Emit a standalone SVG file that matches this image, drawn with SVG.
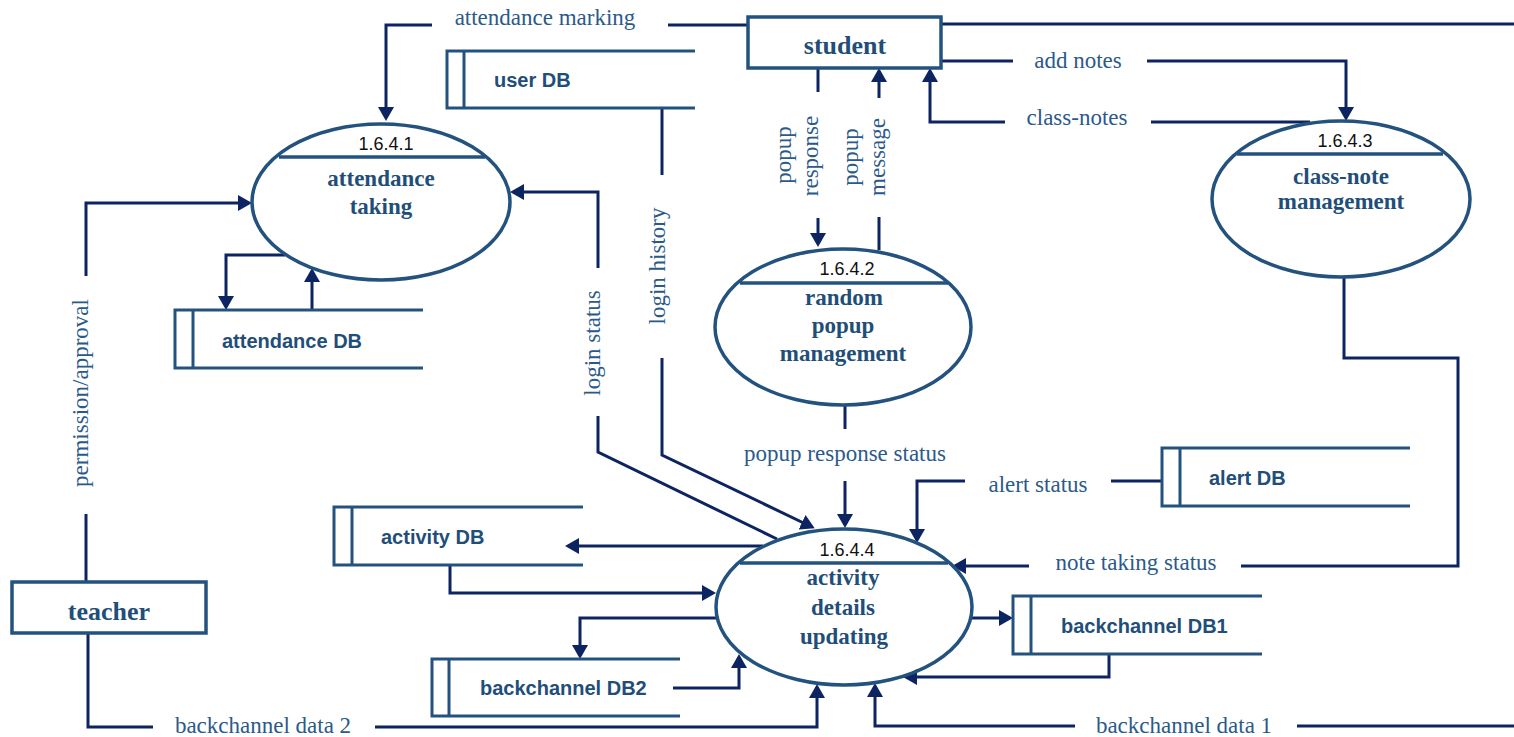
<svg xmlns="http://www.w3.org/2000/svg" width="1514" height="737" viewBox="0 0 1514 737">
  <defs>
    <marker id="arrow" markerUnits="userSpaceOnUse" markerWidth="15" markerHeight="16" refX="11" refY="8" orient="auto">
      <path d="M0,0 L14,8 L0,16 Z" fill="#0c2461"/>
    </marker>
    <style>
      .shape { fill: none; stroke: #24527f; stroke-width: 3.5; }
      .store { fill: none; stroke: #24527f; stroke-width: 3; }
      .flow { fill: none; stroke: #0c2461; stroke-width: 3; }
      .arr { marker-end: url(#arrow); }
      .proc { font-family: "Liberation Serif", "Times New Roman", serif; font-weight: bold; font-size: 23px; fill: #1f4e79; text-anchor: middle; }
      .ent { font-family: "Liberation Serif", "Times New Roman", serif; font-weight: bold; font-size: 26px; fill: #1f4e79; text-anchor: middle; }
      .num { font-family: "Liberation Sans", Arial, sans-serif; font-size: 18px; fill: #111111; text-anchor: middle; }
      .db { font-family: "Liberation Sans", Arial, sans-serif; font-weight: bold; font-size: 20px; fill: #1f4e79; }
      .lbl { font-family: "Liberation Serif", "Times New Roman", serif; font-size: 23px; fill: #2b5a8a; text-anchor: middle; }
    </style>
  </defs>
  <rect width="1514" height="737" fill="#ffffff"/>

  <!-- data flows -->
  <g id="connectors">
    <!-- attendance marking -->
    <path class="flow" d="M748,25 H668"/>
    <path class="flow arr" d="M432,25 H386 V118"/>
    <!-- student to right edge -->
    <path class="flow" d="M941,24 H1514"/>
    <!-- add notes -->
    <path class="flow" d="M941,61 H1013"/>
    <path class="flow arr" d="M1147,61 H1346 V118"/>
    <!-- class-notes -->
    <path class="flow" d="M1310,122 H1151"/>
    <path class="flow arr" d="M1005,122 H930 V71"/>
    <!-- popup response -->
    <path class="flow" d="M818,68 V92"/>
    <path class="flow arr" d="M818,218 V244"/>
    <!-- popup message -->
    <path class="flow" d="M879,250 V217"/>
    <path class="flow arr" d="M879,98 V71"/>
    <!-- login status -->
    <path class="flow arr" d="M598,268 V192 H513"/>
    <path class="flow" d="M598,416 V452 L777,539"/>
    <!-- login history -->
    <path class="flow" d="M662,108 V175"/>
    <path class="flow arr" d="M662,358 V455 L812,527"/>
    <!-- popup response status -->
    <path class="flow" d="M845,406 V429"/>
    <path class="flow arr" d="M845,481 V525"/>
    <!-- alert status -->
    <path class="flow" d="M1162,481 H1111"/>
    <path class="flow arr" d="M965,481 H917 V540"/>
    <!-- note taking status -->
    <path class="flow" d="M1344,277 V358 H1458 V566 H1241"/>
    <path class="flow arr" d="M1029,566 H955"/>
    <!-- activity DB -->
    <path class="flow arr" d="M763,546 H568"/>
    <path class="flow arr" d="M450,565 V593 H713"/>
    <!-- backchannel DB2 -->
    <path class="flow arr" d="M716,618 H580 V656"/>
    <path class="flow arr" d="M673,688 H739 V657"/>
    <!-- backchannel data 2 -->
    <path class="flow" d="M88,632 V727 H153"/>
    <path class="flow arr" d="M375,727 H817 V687"/>
    <!-- backchannel data 1 -->
    <path class="flow" d="M1514,726 H1297"/>
    <path class="flow arr" d="M1075,726 H875 V686"/>
    <!-- backchannel DB1 -->
    <path class="flow arr" d="M972,618 H1010"/>
    <path class="flow arr" d="M1109,654 V677 H906"/>
    <!-- permission/approval -->
    <path class="flow" d="M86,582 V514"/>
    <path class="flow arr" d="M86,276 V203 H249"/>
    <!-- attendance DB -->
    <path class="flow arr" d="M285,255 H226 V307"/>
    <path class="flow arr" d="M312,310 V271"/>

    <!-- flow labels -->
    <text class="lbl" x="545" y="25">attendance marking</text>
    <text class="lbl" x="1078" y="68">add notes</text>
    <text class="lbl" x="1077" y="125">class-notes</text>
    <text class="lbl" x="845" y="461">popup response status</text>
    <text class="lbl" x="1038" y="492">alert status</text>
    <text class="lbl" x="1136" y="570">note taking status</text>
    <text class="lbl" x="263" y="733">backchannel data 2</text>
    <text class="lbl" x="1184" y="733">backchannel data 1</text>
    <text class="lbl" transform="translate(88,393) rotate(-90)">permission/approval</text>
    <text class="lbl" transform="translate(600,343) rotate(-90)">login status</text>
    <text class="lbl" transform="translate(665,266) rotate(-90)">login history</text>
    <text class="lbl" transform="translate(791,155) rotate(-90)">popup</text>
    <text class="lbl" transform="translate(818,156) rotate(-90)">response</text>
    <text class="lbl" transform="translate(858,157) rotate(-90)">popup</text>
    <text class="lbl" transform="translate(885,157) rotate(-90)">message</text>
  </g>

  <!-- external entities -->
  <g id="student">
    <rect class="shape" x="748" y="17" width="193" height="51"/>
    <text class="ent" x="845" y="54">student</text>
  </g>
  <g id="teacher">
    <rect class="shape" x="12" y="582" width="194" height="51"/>
    <text class="ent" x="109" y="620">teacher</text>
  </g>

  <!-- processes -->
  <g id="p1641">
    <ellipse class="shape" cx="381" cy="202" rx="129" ry="78"/>
    <path class="shape" d="M279,157 H485"/>
    <text class="num" x="386" y="150">1.6.4.1</text>
    <text class="proc" x="381" y="186">attendance</text>
    <text class="proc" x="381" y="214">taking</text>
  </g>
  <g id="p1642">
    <ellipse class="shape" cx="843" cy="327" rx="128" ry="78"/>
    <path class="shape" d="M740,283 H948"/>
    <text class="num" x="847" y="275">1.6.4.2</text>
    <text class="proc" x="844" y="305">random</text>
    <text class="proc" x="843" y="333">popup</text>
    <text class="proc" x="843" y="361">management</text>
  </g>
  <g id="p1643">
    <ellipse class="shape" cx="1341" cy="199" rx="129" ry="78"/>
    <path class="shape" d="M1237,154 H1443"/>
    <text class="num" x="1345" y="147">1.6.4.3</text>
    <text class="proc" x="1341" y="184">class-note</text>
    <text class="proc" x="1341" y="209">management</text>
  </g>
  <g id="p1644">
    <ellipse class="shape" cx="844" cy="607" rx="128" ry="78"/>
    <path class="shape" d="M740,563 H948"/>
    <text class="num" x="847" y="556">1.6.4.4</text>
    <text class="proc" x="843" y="585">activity</text>
    <text class="proc" x="843" y="615">details</text>
    <text class="proc" x="844" y="644">updating</text>
  </g>

  <!-- data stores -->
  <g id="userDB">
    <path class="store" d="M695,51 H447 V108 H695 M464,51 V108"/>
    <text class="db" x="494" y="87">user DB</text>
  </g>
  <g id="attendanceDB">
    <path class="store" d="M423,310 H175 V368 H423 M193,310 V368"/>
    <text class="db" x="222" y="348">attendance DB</text>
  </g>
  <g id="activityDB">
    <path class="store" d="M583,507 H334 V565 H583 M352,507 V565"/>
    <text class="db" x="381" y="544">activity DB</text>
  </g>
  <g id="backchannelDB2">
    <path class="store" d="M680,659 H432 V716 H680 M449,659 V716"/>
    <text class="db" x="480" y="695">backchannel DB2</text>
  </g>
  <g id="alertDB">
    <path class="store" d="M1410,448 H1162 V506 H1410 M1180,448 V506"/>
    <text class="db" x="1209" y="485">alert DB</text>
  </g>
  <g id="backchannelDB1">
    <path class="store" d="M1262,596 H1013 V654 H1262 M1031,596 V654"/>
    <text class="db" x="1061" y="633">backchannel DB1</text>
  </g>
</svg>
